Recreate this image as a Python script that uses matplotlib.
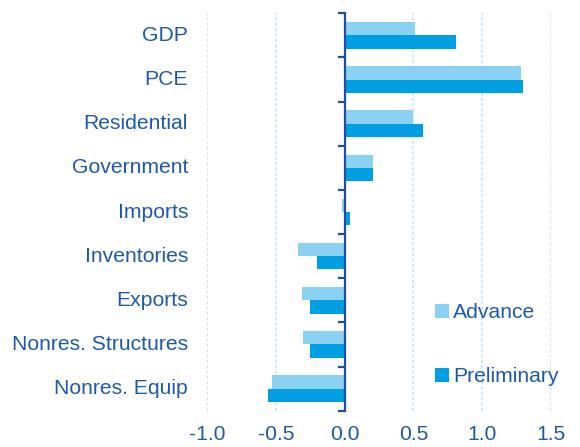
import matplotlib.pyplot as plt
import numpy as np

plt.rcParams['font.family'] = ['Liberation Sans', 'DejaVu Sans']

categories = ['GDP', 'PCE', 'Residential', 'Government', 'Imports',
              'Inventories', 'Exports', 'Nonres. Structures', 'Nonres. Equip']
advance = [0.51, 1.28, 0.50, 0.21, -0.02, -0.34, -0.31, -0.30, -0.53]
preliminary = [0.81, 1.30, 0.57, 0.21, 0.04, -0.20, -0.25, -0.25, -0.56]
xticks = [-1.0, -0.5, 0.0, 0.5, 1.0, 1.5]

text_color = '#1F5AA8'
axis_color = '#1D4F9C'
light_blue = '#8AD1F2'
dark_blue = '#009FE3'
fs = 15.2

fig = plt.figure(figsize=(5.8, 4.47), dpi=100)
ax = fig.add_axes([207 / 580, 1 - 410.7 / 447, 344 / 580, 397.4 / 447])

y = np.arange(len(categories))
h = 0.3
ax.barh(y - h / 2, advance, height=h, color=light_blue, label='Advance', zorder=3)
ax.barh(y + h / 2, preliminary, height=h, color=dark_blue, label='Preliminary', zorder=3)

ax.set_xlim(-1.0, 1.5)
ax.set_ylim(len(categories) - 0.5, -0.5)

# vertical grid
ax.set_xticks(xticks)
ax.set_xticklabels(['%.1f' % v for v in xticks])
ax.xaxis.grid(True, color='#BFE3F6', linestyle=(0, (2, 1.5)), linewidth=1.1, zorder=0)
ax.tick_params(axis='x', length=0, labelsize=fs, labelcolor=text_color, pad=10)

# zero axis with ticks at category boundaries
ax.spines['left'].set_position(('data', 0))
ax.spines['left'].set_color(axis_color)
ax.spines['left'].set_linewidth(1.6)
ax.spines['left'].set_zorder(4)
for s in ['right', 'top', 'bottom']:
    ax.spines[s].set_visible(False)
ax.set_yticks(np.arange(len(categories) + 1) - 0.5)
ax.set_yticklabels([])
ax.tick_params(axis='y', direction='out', length=5, width=1.6, color=axis_color)

for i, name in enumerate(categories):
    ax.text(-0.055, i, name, transform=ax.get_yaxis_transform(), ha='right',
            va='center', fontsize=fs, color=text_color)

leg = ax.legend(loc='upper left', bbox_to_anchor=(435 / 580, 1 - 303 / 447),
                bbox_transform=fig.transFigure, frameon=False, fontsize=fs,
                handlelength=0.65, handleheight=0.65, handletextpad=0.2,
                labelspacing=2.15, borderpad=0, borderaxespad=0)
for t in leg.get_texts():
    t.set_color(text_color)

fig.savefig('out.png', dpi=100)
